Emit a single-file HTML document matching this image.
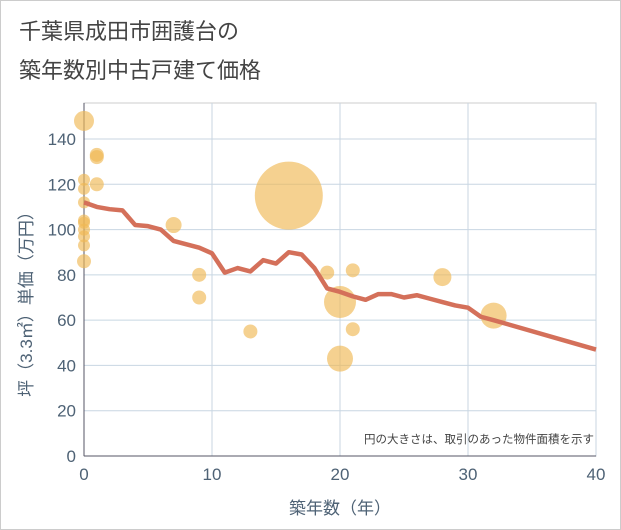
<!DOCTYPE html>
<html><head><meta charset="utf-8"><style>
body{margin:0;background:#fff;font-family:"Liberation Sans","Noto Sans CJK JP",sans-serif;}
#wrap{position:relative;width:619px;height:528px;border:1px solid #ccc;}
.t{position:absolute;left:18px;font-size:22px;color:#444;}
</style></head><body>
<div id="wrap">
<div class="t" style="top:13px">千葉県成田市囲護台の</div>
<div class="t" style="top:52px">築年数別中古戸建て価格</div>
<svg id="c" width="621" height="530" style="position:absolute;left:-1px;top:-1px"></svg>
</div>
<script>
const xTicks=[0,10,20,30,40];
const yTicks=[0,20,40,60,80,100,120,140];
const lineX=[0,1,2,3,4,5,6,7,8,9,10,11,12,13,14,15,16,17,18,19,20,21,22,23,24,25,26,27,28,29,30,31,32,40];
const lineY=[112,110,109,108.5,102,101.5,100,95,93.5,92,89.5,81,83,81.5,86.5,85,90,89,83,74,72.5,70.5,69,71.5,71.5,70,71,69.5,68,66.5,65.5,61.5,60,47];
const bubX=[0,0,0,0,0,0,0,0,0,0,1,1,1,7,9,9,13,16,19,20,20,21,21,28,32];
const bubY=[148,122,118,112,104,103,100,97,93,86,133,132,120,102,80,70,55,115,81,68,43,82,56,79,62];
const bubR=[10,6,6,6,6,6,6,6,6,7,7,7,7,8,7,7,7,34,7,16,13,7,7,9,13];
const NS="http://www.w3.org/2000/svg",svg=document.getElementById('c');
const X0=84,X1=596,Y0=456,Y1=139;
const sx=v=>X0+(X1-X0)*v/40, sy=v=>Y0-(Y0-Y1)*v/140;
const TC='#4e6275';
function mk(t,a,p){const e=document.createElementNS(NS,t);for(const k in a)e.setAttribute(k,a[k]);(p||svg).appendChild(e);return e;}
mk('rect',{x:X0,y:103,width:X1-X0,height:Y0-103,fill:'#fff',stroke:'#ccc'});
yTicks.forEach(v=>{const l=mk('line',{x1:X0,x2:X1,y1:sy(v),y2:sy(v),stroke:'#c8d6e2'});

const t=mk('text',{x:X0-8,y:sy(v)+6,'text-anchor':'end','font-size':17,fill:TC});t.textContent=v;
});
xTicks.forEach(v=>{const l=mk('line',{x1:sx(v),x2:sx(v),y1:103,y2:Y0,stroke:'#c8d6e2'});

const t=mk('text',{x:sx(v),y:Y0+24,'text-anchor':'middle','font-size':17,fill:TC});t.textContent=v;
});
mk('line',{x1:X0,x2:X0,y1:103,y2:Y0,stroke:'#556'});
mk('line',{x1:X0,x2:X1,y1:Y0,y2:Y0,stroke:'#556'});
bubX.forEach((v,i)=>{const c=mk('circle',{cx:sx(v),cy:sy(bubY[i]),r:bubR[i],fill:'#f0b855','fill-opacity':0.65});
});
const p=mk('polyline',{points:lineX.map((v,i)=>sx(v)+','+sy(lineY[i])).join(' '),fill:'none',stroke:'#d4705a','stroke-width':4.5,'stroke-linejoin':'round'});

const n=mk('text',{x:594,y:443,'text-anchor':'end','font-size':11.5,fill:'#444'});n.textContent='円の大きさは、取引のあった物件面積を示す';

const xt=mk('text',{x:340,y:514,'text-anchor':'middle','font-size':17,fill:TC});xt.textContent='築年数（年）';

const yt=mk('text',{x:0,y:0,'text-anchor':'middle','font-size':17,fill:TC,transform:'translate(32,300) rotate(-90)'});yt.textContent='坪（3.3㎡）単価（万円）';

</script>
</body></html>
